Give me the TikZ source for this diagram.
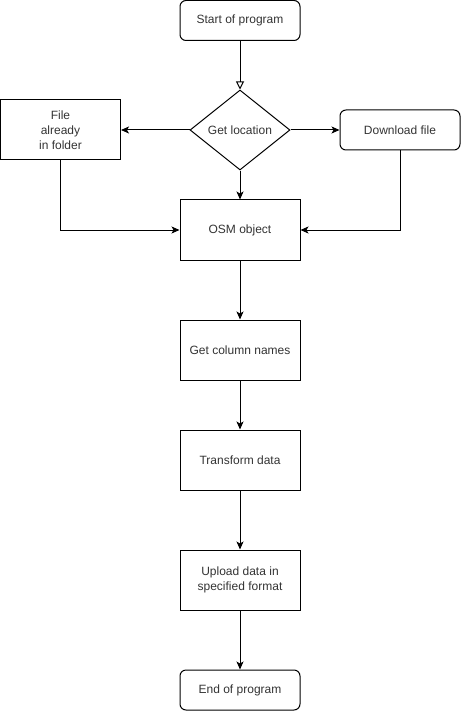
\documentclass[tikz,border=0pt]{standalone}
\usepackage{fontspec}
\setmainfont{Liberation Sans}
\usetikzlibrary{shapes.geometric,arrows.meta}
\begin{document}
\begin{tikzpicture}[x=1pt,y=-1pt,
  every node/.style={font=\fontsize{12}{15}\selectfont,align=center,text=black!80},
  box/.style={draw,line width=1pt,minimum width=120pt,minimum height=60pt,inner sep=0pt},
  rbox/.style={draw,line width=1pt,minimum width=120pt,minimum height=40pt,rounded corners=6pt,inner sep=0pt},
  decide/.style={draw,line width=1pt,diamond,minimum width=100pt,minimum height=80pt,inner sep=0pt,aspect=1.25},
  conn/.style={line width=1pt,-{Stealth[length=8pt,width=7pt,inset=2pt]}},
  hconn/.style={line width=1pt,-{Triangle[open,length=8pt,width=8pt]}}]
\useasboundingbox (0,0) rectangle (461,711);
\node[rbox] (start) at (240,20.5) {Start of program};
\node[decide] (loc) at (240,130) {Get location};
\node[box] (file) at (60.5,130) {File\\already\\in folder};
\node[rbox] (dl) at (400,130) {Download file};
\node[box] (osm) at (240,230) {OSM object};
\node[box] (cols) at (240,350) {Get column names};
\node[box] (trans) at (240,460) {Transform data};
\node[box] (up) at (240,580) {Upload data in\\specified format};
\node[rbox] (end) at (240,690) {End of program};
\draw[hconn] (start) -- (loc);
\draw[conn] (loc) -- (file);
\draw[conn] (loc) -- (dl);
\draw[conn] (loc) -- (osm);
\draw[conn] (file) |- (osm);
\draw[conn] (dl) |- (osm);
\draw[conn] (osm) -- (cols);
\draw[conn] (cols) -- (trans);
\draw[conn] (trans) -- (up);
\draw[conn] (up) -- (end);
\end{tikzpicture}
\end{document}
